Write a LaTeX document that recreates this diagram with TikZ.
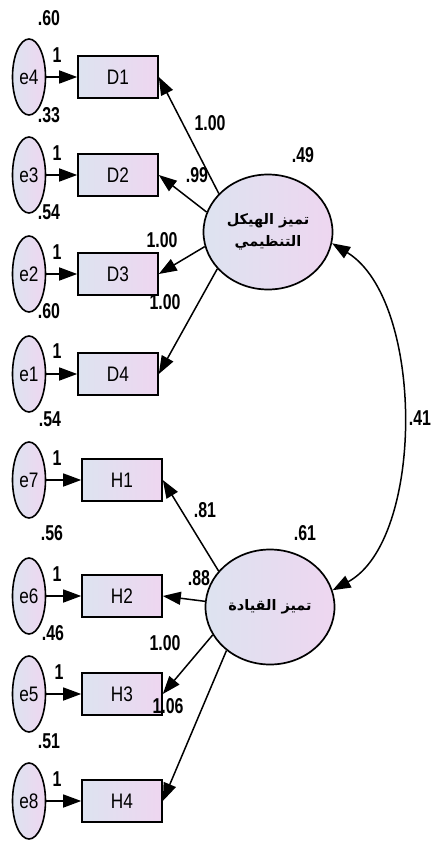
\documentclass[tikz,border=0pt]{standalone}
\usepackage{fontspec}
\setmainfont{Liberation Sans}
\newfontfamily\labfont[FakeStretch=0.74]{Liberation Sans}
\newfontfamily\boxfont[FakeStretch=0.82]{Liberation Sans}
\newfontfamily\arabicfont[Script=Arabic]{DejaVu Sans}
\TeXXeTstate=1
\usetikzlibrary{shapes.geometric,arrows.meta}
\definecolor{shL}{RGB}{221,227,240}
\definecolor{shR}{RGB}{238,214,240}
\tikzset{
  obs/.style={draw, line width=1.6pt, left color=shL, right color=shR,
    minimum width=80pt, minimum height=42pt, inner sep=0pt,
    font={\boxfont\fontsize{21}{24}\selectfont}},
  err/.style={ellipse, draw, line width=1.6pt, left color=shL, right color=shR,
    minimum width=33pt, minimum height=76pt, inner sep=0pt,
    font={\boxfont\fontsize{21}{24}\selectfont}},
  lat/.style={ellipse, draw, line width=1.7pt, left color=shL, right color=shR,
    minimum width=129pt, minimum height=115pt, inner sep=0pt, align=center,
    font={\arabicfont\bfseries\fontsize{14.5}{22}\selectfont}},
  reg/.style={line width=1.5pt, -{Triangle[length=18pt,width=13pt]}},
  cov/.style={line width=1.5pt, {Triangle[length=18pt,width=13pt]}-{Triangle[length=18pt,width=13pt]}},
  num/.style={inner sep=0pt, font={\labfont\bfseries\fontsize{21.5}{23}\selectfont}}
}
\begin{document}
\begin{tikzpicture}[x=1pt,y=-1pt]
\useasboundingbox[fill=white] (0,0) rectangle (435,845);
% observed boxes
\node[obs] (D1) at (118,77) {D1};
\node[obs] (D2) at (118,175) {D2};
\node[obs] (D3) at (118,274) {D3};
\node[obs] (D4) at (118,374) {D4};
\node[obs] (H1) at (122,480) {H1};
\node[obs] (H2) at (122,596) {H2};
\node[obs] (H3) at (122,694) {H3};
\node[obs] (H4) at (122,801) {H4};
% error ellipses
\node[err] (e4) at (29,77) {e4};
\node[err] (e3) at (29,175) {e3};
\node[err] (e2) at (29,274) {e2};
\node[err] (e1) at (29,374) {e1};
\node[err] (e7) at (29,480) {e7};
\node[err] (e6) at (29,596) {e6};
\node[err] (e5) at (29,694) {e5};
\node[err] (e8) at (29,801) {e8};
% latent
\node[lat] (F1) at (268,232) {\beginR تميز الهيكل\endR\\\beginR التنظيمي\endR};
\node[lat] (F2) at (270,607) {\beginR تميز القيادة\endR};
% error arrows
\foreach \e/\o in {e4/D1,e3/D2,e2/D3,e1/D4,e7/H1,e6/H2,e5/H3,e8/H4}
  \draw[reg] (\e) -- (\o);
% regressions
\draw[reg] (F1.142) -- (D1.east);
\draw[reg] (F1.162) -- (D2.east);
\draw[reg] (F1.193) -- (D3.east);
\draw[reg] (F1.216) -- (D4.east);
\draw[reg] (F2.145) -- (H1.east);
\draw[reg] (F2.175) -- (H2.east);
\draw[reg] (F2.206) -- (H3.east);
\draw[reg] (F2.225) -- (H4.east);
% covariance
\draw[cov] (F1.-10) .. controls (425,300) and (425,540) .. (F2.15);
% "1" labels
\node[num] (o1) at (57,55) {1};
\node[num] (o2) at (57,153) {1};
\node[num] (o3) at (57,252) {1};
\node[num] (o4) at (57,351) {1};
\node[num] (o5) at (57,458) {1};
\node[num] (o6) at (57,574) {1};
\node[num] (o7) at (59,672) {1};
\node[num] (o8) at (57,779) {1};
% variances of errors
\node[num] (v4) at (49,18) {.60};
\node[num] (v3) at (49,115) {.33};
\node[num] (v2) at (49,212) {.54};
\node[num] (v1) at (49,311) {.60};
\node[num] (v7) at (50,419) {.54};
\node[num] (v6) at (52,533) {.56};
\node[num] (v5) at (53,633) {.46};
\node[num] (v8) at (49,741) {.51};
% regression weights
\node[num] (w1) at (210,123) {1.00};
\node[num] (w2) at (197,175) {.99};
\node[num] (w3) at (162,240) {1.00};
\node[num] (w4) at (165,302) {1.00};
\node[num] (w5) at (205,510) {.81};
\node[num] (w6) at (199,578) {.88};
\node[num] (w7) at (165,643) {1.00};
\node[num] (w8) at (168,706) {1.06};
% latent variances and covariance
\node[num] (vF1) at (303,155) {.49};
\node[num] (vF2) at (305,533) {.61};
\node[num] (c12) at (420,418) {.41};
\end{tikzpicture}
\end{document}
